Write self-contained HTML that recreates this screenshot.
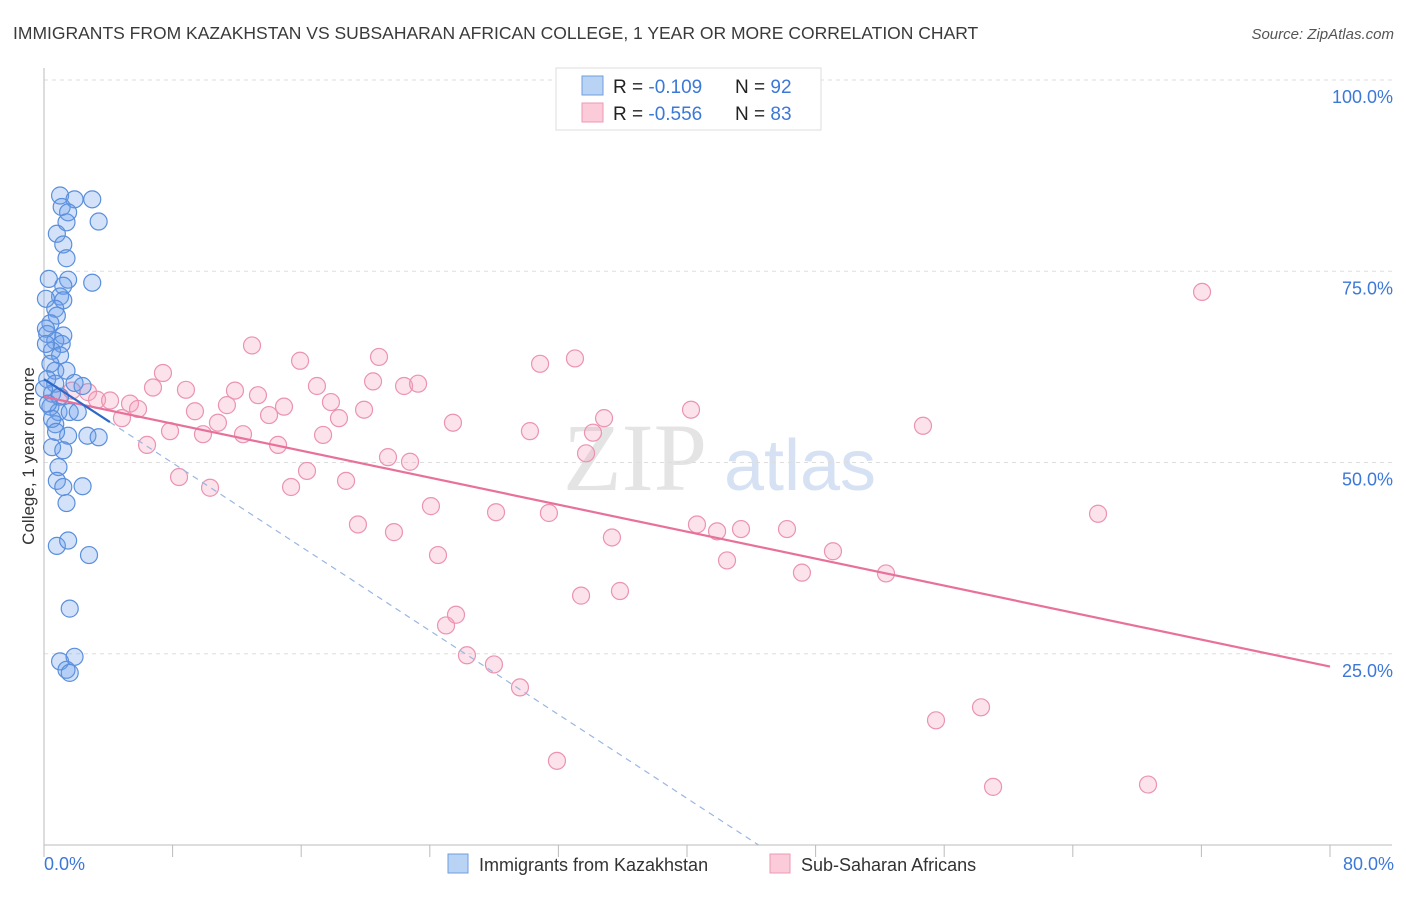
<!DOCTYPE html>
<html><head><meta charset="utf-8"><style>
body{margin:0;background:#fff;width:1406px;height:892px;overflow:hidden;font-family:"Liberation Sans",sans-serif}
</style></head><body>
<svg id="chart" width="1406" height="892" xmlns="http://www.w3.org/2000/svg" font-family="Liberation Sans, sans-serif">
<text x="13" y="39" font-size="17.5" fill="#3a3a3a">IMMIGRANTS FROM KAZAKHSTAN VS SUBSAHARAN AFRICAN COLLEGE, 1 YEAR OR MORE CORRELATION CHART</text>
<text x="1394" y="39" font-size="15" fill="#555" font-style="italic" text-anchor="end">Source: ZipAtlas.com</text>
<g>
<text x="635" y="490" font-size="96" fill="#e4e4e4" font-family="Liberation Serif, serif" text-anchor="middle">ZIP</text>
<text x="800" y="490" font-size="72" fill="#d6e2f3" text-anchor="middle">atlas</text>
</g>
<g id="grid"></g>
<g id="axes"></g>
<g id="pts"></g>
<g id="trends"></g>
<text transform="translate(34,456) rotate(-90)" font-size="17" fill="#333" text-anchor="middle">College, 1 year or more</text>
<g>
<rect x="556" y="68" width="265" height="62" fill="#fff" stroke="#ddd"/>
<rect x="582" y="76" width="21" height="19" fill="#b9d3f5" stroke="#6e9ee0"/>
<rect x="582" y="103" width="21" height="19" fill="#fbcbd9" stroke="#ec9ab4"/>
<text x="613" y="93" font-size="19" fill="#222">R = <tspan fill="#3b78d8">-0.109</tspan><tspan x="735">N = </tspan><tspan fill="#3b78d8">92</tspan></text>
<text x="613" y="120" font-size="19" fill="#222">R = <tspan fill="#3b78d8">-0.556</tspan><tspan x="735">N = </tspan><tspan fill="#3b78d8">83</tspan></text>
</g>
<g>
<rect x="448" y="854" width="20" height="19" fill="#b9d3f5" stroke="#6e9ee0"/>
<text x="479" y="871" font-size="18" fill="#333">Immigrants from Kazakhstan</text>
<rect x="770" y="854" width="20" height="19" fill="#fbcbd9" stroke="#ec9ab4"/>
<text x="801" y="871" font-size="18" fill="#333">Sub-Saharan Africans</text>
</g>
</svg>
<script>
const xTickVals=[0,8,16,24,32,40,48,56,64,72,80];
const yTickVals=[25,50,75,100];
const yTickLabels=["25.0%","50.0%","75.0%","100.0%"];
const xAxisLabels=["0.0%","80.0%"];
const blueX=[1.0,1.9,3.0,1.1,1.5,1.4,3.4,0.8,1.2,1.4,0.3,1.5,1.2,3.0,1.0,1.2,0.7,0.8,0.4,0.2,1.2,0.7,1.1,0.5,1.0,0.4,0.7,1.4,0.2,0.7,1.9,2.4,0.5,1.0,0.4,0.9,1.6,2.1,0.7,1.5,2.7,3.4,0.5,1.2,0.9,0.8,1.2,2.4,1.4,0.8,1.5,2.8,1.6,1.0,1.9,1.4,1.6,0.12,0.12,0.12,0,0.25,0.5,0.75];
const blueY=[84.9,84.4,84.4,83.4,82.7,81.4,81.5,79.9,78.5,76.7,74.0,73.9,73.1,73.5,71.7,71.2,70.1,69.2,68.2,66.8,66.6,65.9,65.5,64.6,64.0,62.9,62.0,62.0,60.9,60.3,60.4,60.0,59.0,58.6,57.3,56.6,56.6,56.6,55.0,53.5,53.5,53.3,52.0,51.6,49.4,47.6,46.8,46.9,44.7,39.1,39.8,37.9,30.9,24.0,24.6,22.9,22.5,71.4,67.5,65.5,59.6,57.7,55.7,54.0];
const pinkX=[0.93,1.74,2.74,3.30,4.11,4.85,5.35,5.85,6.41,6.78,7.40,7.84,8.40,8.83,9.39,9.89,10.33,10.82,11.38,11.88,12.38,12.94,13.31,14.00,14.56,14.93,15.37,15.93,16.36,16.98,17.36,17.85,18.35,18.79,19.53,19.91,20.47,20.84,21.40,21.77,22.40,22.77,23.27,24.07,24.51,25.01,25.44,25.63,26.31,27.99,28.12,29.61,30.23,30.86,31.41,31.91,33.03,33.41,33.72,34.15,34.84,35.33,35.83,40.25,40.62,41.87,42.49,43.36,46.22,47.15,49.08,52.38,54.68,55.49,58.29,59.04,65.57,68.68,72.04];
const pinkY=[58.6,59.4,59.2,58.2,58.1,55.8,57.7,57.0,52.3,59.8,61.7,54.1,48.1,59.5,56.7,53.7,46.7,55.2,57.5,59.4,53.7,65.3,58.8,56.2,52.3,57.3,46.8,63.3,48.9,60.0,53.6,57.9,55.8,47.6,41.9,56.9,60.6,63.8,50.7,40.9,60.0,50.1,60.3,44.3,37.9,28.7,55.2,30.1,24.8,23.6,43.5,20.6,54.1,62.9,43.4,11.0,63.6,32.6,51.2,53.9,55.8,40.2,33.2,56.9,41.9,41.0,37.2,41.3,41.3,35.6,38.4,35.5,54.8,16.3,18.0,7.6,43.3,7.9,72.3];
const blueTrend=[60.9,-1.37];
const pinkTrend=[58.6,-0.441];
const NS="http://www.w3.org/2000/svg";
const X0=44,X1=1330,Y0=845,Y100=80;
const sx=v=>X0+(X1-X0)*v/80;
const sy=v=>Y0-(Y0-Y100)*v/100;
function mk(tag,attrs,parent){const e=document.createElementNS(NS,tag);for(const k in attrs)e.setAttribute(k,attrs[k]);parent.appendChild(e);return e;}
const grid=document.getElementById('grid'),axes=document.getElementById('axes');
yTickVals.forEach((v,i)=>{
 const l=mk('line',{x1:X0,x2:1392,y1:sy(v),y2:sy(v),stroke:'#ddd','stroke-dasharray':'4,4'},grid);
 
 
 const t=mk('text',{x:1393,y:sy(v)+23,'font-size':18,fill:'#3b78d8','text-anchor':'end'},axes);
 t.textContent=yTickLabels[i];
 
 
});
const ax=mk('path',{d:`M${X0},68 V${Y0} H1392`,stroke:'#bbb',fill:'none'},axes);


xTickVals.forEach(v=>{
 const t=mk('line',{x1:sx(v),x2:sx(v),y1:Y0,y2:857,stroke:'#bbb'},axes);
 
 
});
const xl0=mk('text',{x:44,y:870,'font-size':18,fill:'#3b78d8'},axes);xl0.textContent=xAxisLabels[0];


const xl1=mk('text',{x:1394,y:870,'font-size':18,fill:'#3b78d8','text-anchor':'end'},axes);xl1.textContent=xAxisLabels[1];


const pts=document.getElementById('pts');
pinkX.forEach((x,i)=>{
 const c=mk('circle',{cx:sx(x),cy:sy(pinkY[i]),r:8.5,fill:'rgba(244,160,188,0.3)',stroke:'#eb93b0','stroke-width':1.2},pts);
 
 
});
blueX.forEach((x,i)=>{
 const c=mk('circle',{cx:sx(x),cy:sy(blueY[i]),r:8.5,fill:'rgba(110,160,235,0.3)',stroke:'#5a8fdc','stroke-width':1.2},pts);
 
 
});
const tr=document.getElementById('trends');
const pl=mk('line',{x1:sx(0),y1:sy(pinkTrend[0]),x2:sx(80),y2:sy(pinkTrend[0]+pinkTrend[1]*80),stroke:'#e8719b','stroke-width':2.2},tr);


const xEnd=-blueTrend[0]/blueTrend[1];
const bd=mk('line',{x1:sx(4.1),y1:sy(blueTrend[0]+blueTrend[1]*4.1),x2:sx(xEnd),y2:sy(0),stroke:'#9ab6e0','stroke-width':1.2,'stroke-dasharray':'6,5'},tr);


const bl=mk('line',{x1:sx(0),y1:sy(blueTrend[0]),x2:sx(4.1),y2:sy(blueTrend[0]+blueTrend[1]*4.1),stroke:'#3068c8','stroke-width':2.2},tr);


</script>
</body></html>
